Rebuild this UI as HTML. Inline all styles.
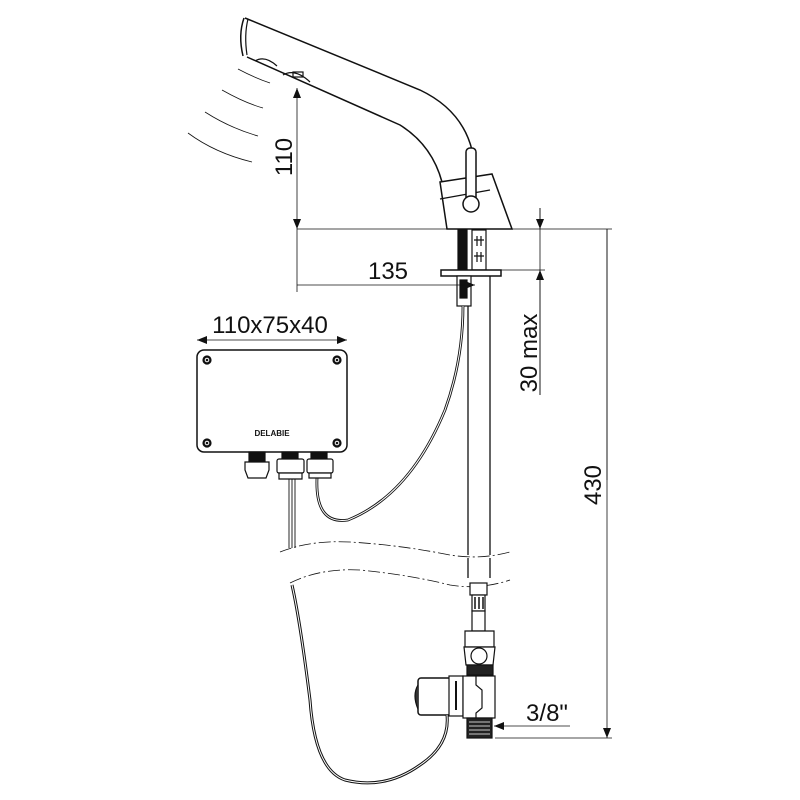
<!DOCTYPE html>
<html><head><style>
html,body{margin:0;padding:0;background:#fff;}
svg{display:block;}
text{font-family:"Liberation Sans","DejaVu Sans",sans-serif;fill:#111;}
</style></head><body>
<svg width="800" height="800" viewBox="0 0 800 800" xmlns="http://www.w3.org/2000/svg">
<defs>
<marker id="a" markerWidth="10" markerHeight="8" refX="10" refY="4" orient="auto" markerUnits="userSpaceOnUse"><path d="M0,0 L10,4 L0,8z" fill="#111"/></marker>
</defs>
<g fill="none" stroke="#111" stroke-width="1.2">
<path d="M245,18 L420,90 Q462,110 472,150" stroke-width="1.5"/>
<path d="M247,57 L400,125 Q432,145 442,182" stroke-width="1.5"/>
<path d="M244,18 Q238,35 243,56" stroke-width="1.5"/>
<path d="M248,19 Q244,35 247,55"/>
<path d="M255,61 Q265,55 277,66"/>
<path d="M283,75 Q295,68 310,82"/>
<rect x="293" y="72" width="10" height="5"/>
<path d="M440,182 L492,174 L512,229 L447,229 Z" fill="#fff" stroke-width="1.5"/>
<path d="M440,199 L490,190"/>
<rect x="466" y="148" width="10" height="56" rx="4" fill="#fff" stroke-width="1.5"/>
<circle cx="471" cy="204" r="8" fill="#fff" stroke-width="1.5"/>
<path d="M238,69 Q255,78 270,83" stroke-width="0.8"/>
<path d="M222,90 Q245,103 263,108" stroke-width="0.8"/>
<path d="M205,112 Q230,128 258,136" stroke-width="0.8"/>
<path d="M188,133 Q215,153 252,162" stroke-width="0.8"/>
<rect x="458" y="230" width="9" height="40" fill="#111"/>
<rect x="472" y="230" width="14" height="40" fill="#fff"/>
<path d="M474,240h10M474,256h10M477,236v10M481,236v10M477,252v10M481,252v10"/>
<rect x="441" y="270" width="60" height="6" fill="#fff" stroke-width="1.5"/>
<rect x="457" y="276" width="14" height="30" fill="#fff"/>
<rect x="460" y="280" width="7" height="18" fill="#111"/>
<path d="M468,306 V555 M490,276 V555" stroke-width="1.3"/>
<path d="M463,306 Q463,360 445,410 Q410,495 348,520 Q315,525 317,478" stroke-width="2.8"/>
<path d="M463,306 Q463,360 445,410 Q410,495 348,520 Q315,525 317,478" stroke="#fff" stroke-width="1"/>
<g stroke-width="0.8">
<path d="M297,229 H612 M297,229 V292"/>
<path d="M297,160 V88" marker-end="url(#a)"/>
<path d="M297,160 V229" marker-end="url(#a)"/>
<path d="M297,285 H475" marker-end="url(#a)"/>
<path d="M540,208 V229" marker-end="url(#a)"/>
<path d="M540,395 V270" marker-end="url(#a)"/>
<path d="M500,270 H545 M540,208 V395"/>
<path d="M607,229 V738" marker-end="url(#a)"/>
<path d="M607,480 V229"/>
<path d="M495,738 H612"/>
<path d="M570,726 H494" marker-end="url(#a)"/>
<path d="M270,340 H197" marker-end="url(#a)"/>
<path d="M270,340 H347" marker-end="url(#a)"/>
</g>
<rect x="197" y="350" width="150" height="102" rx="7" fill="#fff" stroke-width="1.5"/>
<g fill="#111"><circle cx="207" cy="360" r="4"/><circle cx="337" cy="360" r="4"/><circle cx="207" cy="443" r="4"/><circle cx="337" cy="443" r="4"/></g>
<g stroke="#fff" stroke-width="1"><circle cx="207" cy="360" r="1.8"/><circle cx="337" cy="360" r="1.8"/><circle cx="207" cy="443" r="1.8"/><circle cx="337" cy="443" r="1.8"/></g>
<rect x="249" y="452" width="16" height="9" fill="#111"/>
<rect x="282" y="452" width="16" height="9" fill="#111"/>
<rect x="311" y="452" width="16" height="9" fill="#111"/>
<path d="M245,462 h24 v8 l-3,8 h-18 l-3,-8z" fill="#fff"/>
<rect x="277" y="459" width="27" height="14" rx="2" fill="#fff"/>
<rect x="307" y="459" width="26" height="14" rx="2" fill="#fff"/>
<path d="M279,473 h23 v6 h-23z M309,473 h22 v5 h-22z" fill="#fff"/>
<path d="M289,479 V548 M292,479 V548 M295,479 V548" stroke-width="0.9"/>
<path d="M280,552 Q310,540 350,542 Q400,545 450,555 Q480,560 510,552" stroke-dasharray="12,3,2,3" stroke-width="0.8"/>
<path d="M290,583 Q320,568 360,570 Q410,575 450,585 Q480,590 510,580" stroke-dasharray="12,3,2,3" stroke-width="0.8"/>
<path d="M468,558 V578 M490,558 V578" stroke-width="1.3"/>
<rect x="470" y="583" width="17" height="12" fill="#fff"/>
<rect x="472" y="595" width="13" height="16" fill="#fff"/>
<path d="M475,597v12M479,597v12M483,597v12" stroke-width="1.5"/>
<rect x="472" y="611" width="13" height="20" fill="#fff"/>
<path d="M465,631 h29 v16 h-29z" fill="#fff"/>
<path d="M464,647 h31 l-2,18 h-27 z" fill="#fff"/>
<ellipse cx="479" cy="656" rx="8" ry="8" fill="#fff"/>
<rect x="467" y="665" width="26" height="10" fill="#222"/>
<rect x="418" y="678" width="33" height="37" rx="3" fill="#fff" stroke-width="1.5"/>
<path d="M418,685 q-6,10 0,24" fill="#333"/>
<rect x="449" y="676" width="14" height="40" fill="#fff"/>
<path d="M456,681 V710" stroke-width="2"/>
<rect x="463" y="676" width="32" height="42" fill="#fff"/>
<path d="M476,676 v9 l6,5 v18 l-6,5 v5"/>
<rect x="467" y="718" width="25" height="20" fill="#222"/>
<path d="M469,722h21M469,726h21M469,730h21M469,734h21" stroke="#fff" stroke-width="0.8"/>
<path d="M447,715 Q450,745 420,765 Q385,790 345,780 Q315,770 310,700 Q300,620 292,585" stroke-width="3"/>
<path d="M447,715 Q450,745 420,765 Q385,790 345,780 Q315,770 310,700 Q300,620 292,585" stroke="#fff" stroke-width="1"/>
</g>
<text x="270" y="333" font-size="24" text-anchor="middle">110x75x40</text>
<text x="388" y="279" font-size="24" text-anchor="middle">135</text>
<text x="547" y="721" font-size="24" text-anchor="middle">3/8"</text>
<text transform="translate(292,157) rotate(-90)" font-size="24" text-anchor="middle">110</text>
<text transform="translate(537,353) rotate(-90)" font-size="24" text-anchor="middle">30 max</text>
<text transform="translate(601,485) rotate(-90)" font-size="24" text-anchor="middle">430</text>
<text x="272" y="436" font-size="8" font-weight="bold" text-anchor="middle">DELABIE</text>
</svg>
</body></html>
